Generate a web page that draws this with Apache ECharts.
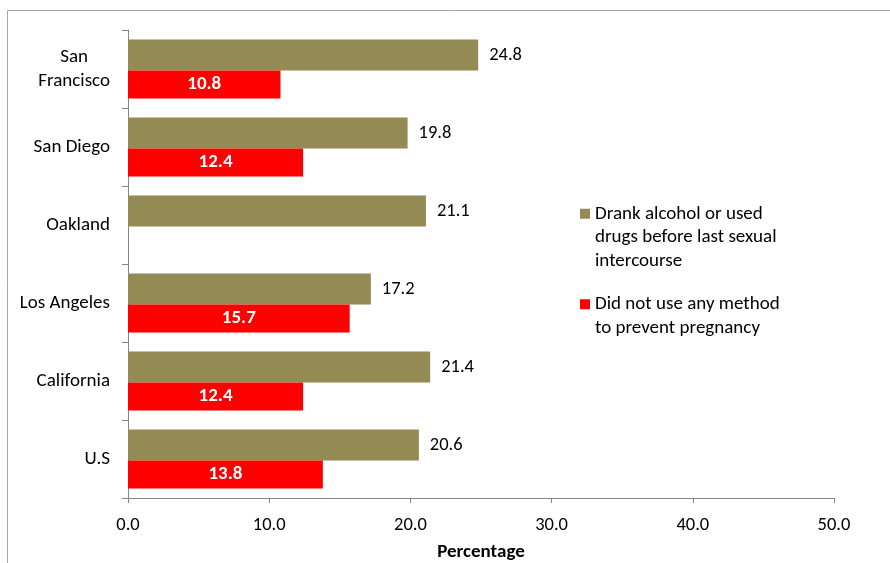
<!DOCTYPE html>
<html>
<head>
<meta charset="utf-8">
<script src="https://cdn.jsdelivr.net/npm/echarts@6/dist/echarts.min.js"></script>
<style>
  html, body { margin: 0; padding: 0; background: #fff; }
  #chart { width: 890px; height: 563px; }
</style>
</head>
<body>
<div id="chart"></div>
<script>
// Cities / regions, top to bottom
const categories = ['San Francisco', 'San Diego', 'Oakland', 'Los Angeles', 'California', 'U.S'];
// Percent of students who drank alcohol or used drugs before last sexual intercourse
const alcoholDrugs = [24.8, 19.8, 21.1, 17.2, 21.4, 20.6];
// Percent who did not use any method to prevent pregnancy (no value for Oakland)
const noMethod = [10.8, 12.4, null, 15.7, 12.4, 13.8];
const seriesNames = [
  'Drank alcohol or used\ndrugs before last sexual\nintercourse',
  'Did not use any method\nto prevent pregnancy'
];
const xTicks = { min: 0, max: 50, interval: 10 };
const axisTitle = 'Percentage';

const FONT = 'Carlito, Lato, sans-serif';
const FS = 19;       // text size
const FS_NUM = 18.5; // number size
const LH = 23.5;

const chart = echarts.init(document.getElementById('chart'), null, { renderer: 'canvas' });

// Legend text is vertically centred on its marker; pad the front with blank
// lines so the marker sits beside the first line of a wrapped name.
function legendText(name) {
  const n = name.split('\n').length;
  return '\n'.repeat(n - 1) + name;
}

const legendBase = {
  orient: 'vertical',
  left: 580,
  padding: 0,
  itemWidth: 10,
  itemHeight: 10,
  icon: 'rect',
  selectedMode: false,
  formatter: legendText,
  textStyle: { fontFamily: FONT, fontSize: FS, lineHeight: LH, color: '#000' }
};

chart.setOption({
  animation: false,
  backgroundColor: '#fff',
  graphic: [{
    type: 'rect',
    shape: { x: 7.5, y: 10.5, width: 1000, height: 1000 },
    style: { fill: 'none', stroke: '#a6a6a6', lineWidth: 1 },
    silent: true
  }],
  legend: [
    Object.assign({}, legendBase, { top: 155, data: [seriesNames[0]] }),
    Object.assign({}, legendBase, { top: 269, data: [seriesNames[1]] })
  ],
  grid: { left: 128, right: 56, top: 30, bottom: 65, containLabel: false, outerBoundsMode: 'none' },
  xAxis: {
    type: 'value',
    min: xTicks.min,
    max: xTicks.max,
    interval: xTicks.interval,
    name: axisTitle,
    nameLocation: 'middle',
    nameGap: 45,
    nameTextStyle: { fontFamily: FONT, fontSize: FS, fontWeight: 'bold', color: '#000' },
    axisLine: { show: true, lineStyle: { color: '#868686', width: 1 } },
    axisTick: { show: true, length: 5, lineStyle: { color: '#868686' } },
    splitLine: { show: false },
    axisLabel: {
      margin: 18,
      fontFamily: FONT, fontSize: FS_NUM, color: '#000',
      formatter: v => v.toFixed(1)
    }
  },
  yAxis: {
    type: 'category',
    data: categories,
    inverse: true,
    axisLine: { show: true, lineStyle: { color: '#868686', width: 1 } },
    axisTick: { show: true, length: 6, alignWithLabel: false, lineStyle: { color: '#868686' } },
    axisLabel: {
      margin: 18,
      color: '#000',
      formatter: v => v === 'San Francisco' ? '{c|San}\n{c|Francisco}' : '{c|' + v + '}',
      rich: { c: { fontFamily: FONT, fontSize: FS, lineHeight: 24, align: 'center', color: '#000' } }
    }
  },
  series: [
    {
      name: seriesNames[0],
      type: 'bar',
      data: alcoholDrugs,
      barWidth: 31,
      barGap: '0%',
      itemStyle: { color: '#948A54' },
      label: {
        show: true,
        position: 'right',
        distance: 11,
        fontFamily: FONT, fontSize: FS_NUM, color: '#000',
        formatter: p => p.value.toFixed(1)
      }
    },
    {
      name: seriesNames[1],
      type: 'bar',
      data: noMethod,
      barWidth: 28,
      barGap: '0%',
      itemStyle: { color: '#FF0000' },
      label: {
        show: true,
        position: 'inside',
        fontFamily: FONT, fontSize: FS, fontWeight: 'bold', color: '#fff',
        formatter: p => p.value == null ? '' : p.value.toFixed(1)
      }
    }
  ]
});
</script>
</body>
</html>
